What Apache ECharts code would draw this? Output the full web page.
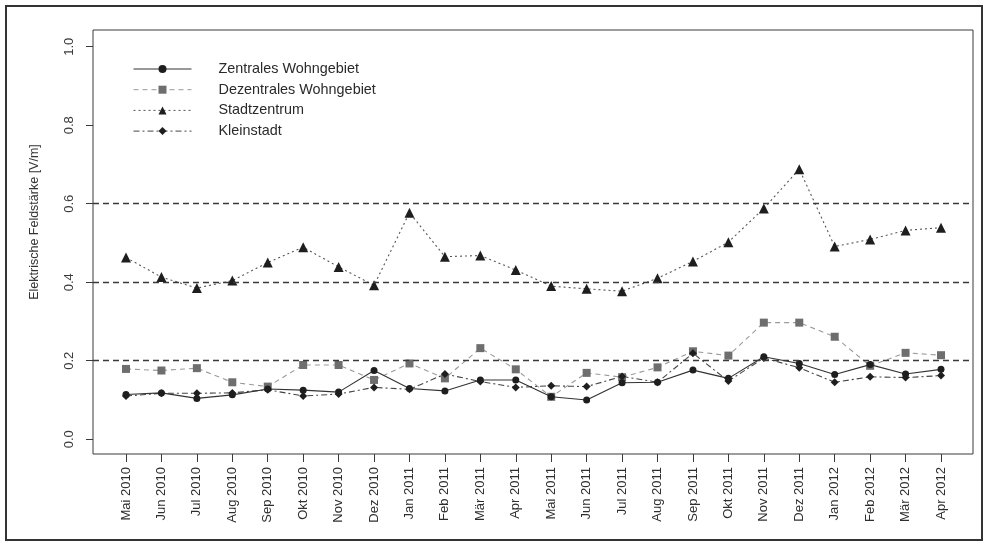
<!DOCTYPE html>
<html>
<head>
<meta charset="utf-8">
<script src="https://cdn.jsdelivr.net/npm/echarts@6/dist/echarts.min.js"></script>
<style>
  html, body { margin: 0; padding: 0; background: #ffffff; }
  #chart { width: 987px; height: 546px; }
</style>
</head>
<body>
<div id="chart"></div>
<script>
// Monthly measurement periods
const months = [
  'Mai 2010', 'Jun 2010', 'Jul 2010', 'Aug 2010', 'Sep 2010', 'Okt 2010',
  'Nov 2010', 'Dez 2010', 'Jan 2011', 'Feb 2011', 'Mär 2011', 'Apr 2011',
  'Mai 2011', 'Jun 2011', 'Jul 2011', 'Aug 2011', 'Sep 2011', 'Okt 2011',
  'Nov 2011', 'Dez 2011', 'Jan 2012', 'Feb 2012', 'Mär 2012', 'Apr 2012'
];

// Mean electric field strength per area type [V/m]
const zentralesWohngebiet = [
  0.114, 0.118, 0.104, 0.113, 0.128, 0.125, 0.120, 0.175, 0.129, 0.123, 0.151, 0.151,
  0.108, 0.100, 0.144, 0.145, 0.176, 0.155, 0.210, 0.193, 0.165, 0.190, 0.166, 0.178
];
const dezentralesWohngebiet = [
  0.179, 0.175, 0.181, 0.145, 0.134, 0.189, 0.189, 0.151, 0.193, 0.155, 0.232, 0.178,
  0.108, 0.169, 0.158, 0.183, 0.224, 0.213, 0.297, 0.297, 0.261, 0.187, 0.220, 0.214
];
const stadtzentrum = [
  0.463, 0.413, 0.385, 0.404, 0.450, 0.489, 0.439, 0.392, 0.577, 0.465, 0.468, 0.431,
  0.390, 0.383, 0.377, 0.410, 0.453, 0.502, 0.588, 0.688, 0.491, 0.509, 0.532, 0.539
];
const kleinstadt = [
  0.110, 0.117, 0.117, 0.118, 0.126, 0.110, 0.115, 0.132, 0.127, 0.166, 0.147, 0.132,
  0.136, 0.134, 0.160, 0.145, 0.219, 0.148, 0.207, 0.182, 0.145, 0.159, 0.157, 0.162
];

// Axis ticks and horizontal reference levels
const yTicks = [0.0, 0.2, 0.4, 0.6, 0.8, 1.0];
const referenceLevels = [0.2, 0.4, 0.6];

const FONT = '"Liberation Sans", Arial, sans-serif';
const monthIndex = months.map((_, i) => i);
const pairs = values => values.map((v, i) => [i, v]);

const chart = echarts.init(document.getElementById('chart'), null, { renderer: 'canvas' });

chart.setOption({
  animation: false,
  backgroundColor: '#ffffff',
  textStyle: { fontFamily: FONT },
  grid: {
    left: 93, right: 14, top: 30, bottom: 92,
    show: true, borderColor: '#3a3a3a', borderWidth: 1, backgroundColor: 'transparent'
  },
  legend: {
    orient: 'vertical',
    left: 128, top: 57,
    itemWidth: 58, itemHeight: 10, itemGap: 6.7,
    lineStyle: { width: 1 },
    textStyle: { fontFamily: FONT, fontSize: 14.4, color: '#2a2a2a', lineHeight: 14, padding: [0, 0, 0, 22] },
    data: ['Zentrales Wohngebiet', 'Dezentrales Wohngebiet', 'Stadtzentrum', 'Kleinstadt']
  },
  xAxis: {
    type: 'value',
    min: -0.931, max: 23.903,
    axisLine: { show: false, onZero: false },
    splitLine: { show: false },
    axisTick: { show: true, customValues: monthIndex, length: 8, lineStyle: { color: '#3a3a3a' } },
    axisLabel: {
      customValues: monthIndex,
      rotate: 90, margin: 13,
      fontFamily: FONT, fontSize: 13, color: '#2f2f2f',
      formatter: v => months[Math.round(v)]
    }
  },
  yAxis: {
    type: 'value',
    min: -0.0377, max: 1.0425,
    axisLine: { show: false, onZero: false },
    splitLine: { show: false },
    axisTick: { show: true, customValues: yTicks, length: 7, lineStyle: { color: '#3a3a3a' } },
    axisLabel: {
      customValues: yTicks,
      rotate: 90, margin: 17,
      fontFamily: FONT, fontSize: 13, color: '#3a3a3a',
      formatter: v => v.toFixed(1)
    }
  },
  graphic: [
    {
      type: 'rect', silent: true,
      shape: { x: 6, y: 6, width: 976, height: 534 },
      style: { fill: 'none', stroke: '#333333', lineWidth: 2 }
    },
    {
      type: 'text', silent: true,
      x: 35, y: 222, rotation: Math.PI / 2,
      style: {
        text: 'Elektrische Feldstärke [V/m]',
        font: '12.5px ' + FONT, fill: '#333333',
        align: 'center', verticalAlign: 'middle'
      }
    }
  ],
  series: [
    {
      name: 'Zentrales Wohngebiet', type: 'line',
      data: pairs(zentralesWohngebiet),
      symbol: 'circle', symbolSize: 7,
      lineStyle: { color: '#333333', width: 1.1, type: 'solid' },
      itemStyle: { color: '#1e1e1e' },
      z: 4,
      markLine: {
        silent: true, symbol: 'none', animation: false,
        label: { show: false },
        lineStyle: { color: '#3a3a3a', width: 1.3, type: [6, 4] },
        data: referenceLevels.map(v => ({ yAxis: v }))
      }
    },
    {
      name: 'Dezentrales Wohngebiet', type: 'line',
      data: pairs(dezentralesWohngebiet),
      symbol: 'rect', symbolSize: 8,
      lineStyle: { color: '#9a9a9a', width: 1.1, type: [5, 4] },
      itemStyle: { color: '#6e6e6e' },
      z: 3
    },
    {
      name: 'Stadtzentrum', type: 'line',
      data: pairs(stadtzentrum),
      symbol: 'triangle', symbolSize: 10,
      lineStyle: { color: '#555555', width: 1.1, type: [2, 3] },
      itemStyle: { color: '#1e1e1e' },
      z: 3
    },
    {
      name: 'Kleinstadt', type: 'line',
      data: pairs(kleinstadt),
      symbol: 'diamond', symbolSize: 8,
      lineStyle: { color: '#444444', width: 1.1, type: [6, 3, 2, 3] },
      itemStyle: { color: '#1e1e1e' },
      z: 3
    }
  ]
});
</script>
</body>
</html>
